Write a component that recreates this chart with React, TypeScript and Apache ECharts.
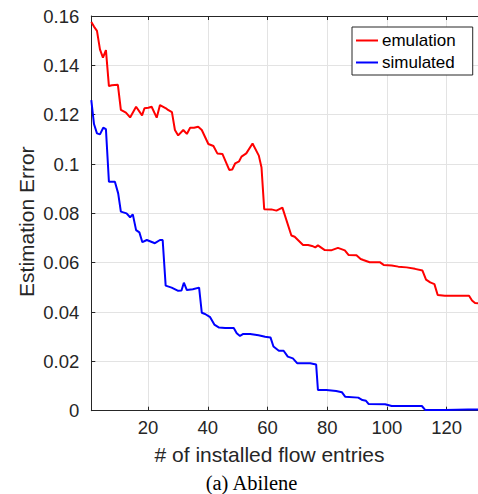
import React, { useEffect, useRef } from "react";
import * as echarts from "echarts";

const redX = [1, 1.9, 2.9, 3.9, 4.9, 5.9, 6.9, 7.9, 9.9, 10.9, 12.6, 14, 16, 18, 18.8, 20.1, 21.2, 22.9, 24, 26, 26.7, 28, 29, 30.1, 31.8, 33, 34.1, 35.4, 36.8, 38, 40.2, 41.9, 43.2, 44.9, 47.2, 48.2, 49.2, 50.5, 51.3, 52.9, 55.0, 57.1, 58, 58.9, 61.3, 63, 65, 68, 69.1, 70.2, 71.9, 73.6, 74.9, 76, 76.9, 79.2, 81.3, 83.6, 85.9, 87.2, 89.8, 91.2, 92.1, 94.2, 97.6, 98.9, 101.6, 103.8, 106.6, 109.4, 111.9, 113.1, 114.5, 115.9, 117, 119.4, 127.5, 128.5, 129.5, 130.5];
const redY = [0.1576, 0.1557, 0.154, 0.1465, 0.1431, 0.1462, 0.1316, 0.1319, 0.1321, 0.1219, 0.1208, 0.1189, 0.1232, 0.1197, 0.1226, 0.1228, 0.1232, 0.1188, 0.1239, 0.1226, 0.1219, 0.121, 0.1138, 0.1116, 0.1138, 0.1122, 0.1147, 0.1147, 0.1151, 0.1138, 0.1081, 0.1073, 0.1043, 0.1041, 0.0976, 0.0978, 0.1003, 0.1011, 0.103, 0.1043, 0.1083, 0.1034, 0.0986, 0.0817, 0.0816, 0.0811, 0.0823, 0.071, 0.0705, 0.0692, 0.0672, 0.0672, 0.0668, 0.0662, 0.067, 0.0651, 0.065, 0.066, 0.065, 0.0631, 0.063, 0.0615, 0.0611, 0.0602, 0.0602, 0.0591, 0.0589, 0.0584, 0.0581, 0.0575, 0.0568, 0.0531, 0.052, 0.0513, 0.0469, 0.0466, 0.0466, 0.0447, 0.0437, 0.0436];

const blueX = [1, 1.9, 2.9, 3.9, 5, 5.9, 6.9, 8.9, 10, 10.9, 12.8, 14, 14.9, 16, 17.1, 18.1, 19.6, 22.3, 24, 24.9, 25.9, 27.9, 30.1, 31.2, 32, 33, 35, 37.1, 38, 39.1, 40.8, 42.2, 43.8, 45.8, 48.7, 49.7, 50.8, 51.9, 54.2, 57, 59.2, 61, 62, 63.8, 65.4, 66.8, 68.5, 70, 74.3, 76.3, 76.9, 79.7, 83, 84.9, 86, 90.4, 91.8, 93, 93.9, 99.4, 101.6, 111.7, 112.8, 119.5, 127.2, 130.5];
const blueY = [0.1259, 0.1162, 0.1124, 0.112, 0.1147, 0.1141, 0.0928, 0.0928, 0.0881, 0.0807, 0.08, 0.0784, 0.0796, 0.0732, 0.0723, 0.0683, 0.0692, 0.0679, 0.0692, 0.0692, 0.0507, 0.0499, 0.0486, 0.0487, 0.0519, 0.0489, 0.0492, 0.0499, 0.0397, 0.0392, 0.0379, 0.0349, 0.0337, 0.0335, 0.0335, 0.0314, 0.0303, 0.0311, 0.0311, 0.0306, 0.03, 0.0297, 0.026, 0.0243, 0.0243, 0.0219, 0.0212, 0.0192, 0.0192, 0.0187, 0.0084, 0.0084, 0.008, 0.0075, 0.0057, 0.0053, 0.0043, 0.004, 0.0027, 0.0026, 0.0019, 0.0019, 0.0003, 0.0003, 0.0005, 0.0005];

const seriesNames = ["emulation", "simulated"];
const xLabel = "# of installed flow entries";
const yLabel = "Estimation Error";
const caption = "(a) Abilene";

const AXIS = "#262626";
const SANS = "'Liberation Sans', Arial, sans-serif";

export default function App() {
  const ref = useRef<HTMLDivElement>(null);
  useEffect(() => {
    if (!ref.current) return;
    const chart = echarts.init(ref.current, undefined, { renderer: "svg" });
    const zip = (xs: number[], ys: number[]) => xs.map((x, i) => [x, ys[i]]);
    const xCommon = {
      type: "value" as const,
      min: 1,
      max: 130.5,
      splitNumber: 6,
      minInterval: 20,
      maxInterval: 20,
    };
    chart.setOption({
      animation: false,
      backgroundColor: "#ffffff",
      grid: { left: 91.3, top: 16, right: 0, bottom: 83.3, containLabel: false },
      legend: {
        orient: "vertical",
        left: 352,
        top: 27,
        padding: [4, 17, 3, 4],
        itemGap: 3,
        itemWidth: 22,
        itemHeight: 2,
        icon: "rect",
        backgroundColor: "#ffffff",
        borderColor: AXIS,
        borderWidth: 1,
        borderRadius: 0,
        textStyle: { fontFamily: SANS, fontSize: 17, color: "#000", lineHeight: 19, padding: [0, 0, 0, -1] },
        data: seriesNames,
      },
      xAxis: [
        {
          ...xCommon,
          position: "bottom",
          axisLine: { show: true, lineStyle: { color: AXIS, width: 1 } },
          axisTick: { show: true, inside: true, length: 4, lineStyle: { color: AXIS } },
          axisLabel: {
            show: true,
            showMinLabel: false,
            showMaxLabel: false,
            fontFamily: SANS,
            fontSize: 18.5,
            color: AXIS,
            margin: 7,
          },
          splitLine: { show: true, lineStyle: { color: "#e3e3e3", width: 1 } },
        },
        {
          ...xCommon,
          position: "top",
          axisLine: { show: true, onZero: false, lineStyle: { color: AXIS, width: 1 } },
          axisTick: { show: true, inside: true, length: 4, lineStyle: { color: AXIS } },
          axisLabel: { show: false },
          splitLine: { show: false },
        },
      ],
      yAxis: {
        type: "value",
        min: 0,
        max: 0.16,
        interval: 0.02,
        axisLine: { show: true, lineStyle: { color: AXIS, width: 1 } },
        axisTick: { show: true, inside: true, length: 4, lineStyle: { color: AXIS } },
        axisLabel: { fontFamily: SANS, fontSize: 18.5, color: AXIS, margin: 12 },
        splitLine: { show: true, lineStyle: { color: "#e3e3e3", width: 1 } },
      },
      graphic: [
        {
          type: "text",
          x: 269.5,
          y: 454.5,
          style: {
            text: xLabel,
            fontFamily: SANS,
            fontSize: 21,
            fill: AXIS,
            align: "center",
            verticalAlign: "middle",
          },
        },
        {
          type: "text",
          x: 26,
          y: 221.7,
          rotation: Math.PI / 2,
          style: {
            text: yLabel,
            fontFamily: SANS,
            fontSize: 21,
            fill: AXIS,
            align: "center",
            verticalAlign: "middle",
          },
        },
        {
          type: "text",
          x: 251.5,
          y: 482.5,
          style: {
            text: caption,
            fontFamily: "'Liberation Serif', 'Times New Roman', serif",
            fontSize: 20.5,
            fill: "#000",
            align: "center",
            verticalAlign: "middle",
          },
        },
      ],
      series: [
        {
          name: seriesNames[0],
          type: "line",
          xAxisIndex: 0,
          data: zip(redX, redY),
          showSymbol: false,
          symbol: "none",
          lineStyle: { color: "#ff0000", width: 2 },
          itemStyle: { color: "#ff0000" },
          clip: true,
        },
        {
          name: seriesNames[1],
          type: "line",
          xAxisIndex: 0,
          data: zip(blueX, blueY),
          showSymbol: false,
          symbol: "none",
          lineStyle: { color: "#0000ff", width: 2 },
          itemStyle: { color: "#0000ff" },
          clip: true,
        },
      ],
    });
    return () => chart.dispose();
  }, []);
  return <div ref={ref} style={{ width: 478, height: 494, position: "absolute", left: 0, top: 0 }} />;
}
